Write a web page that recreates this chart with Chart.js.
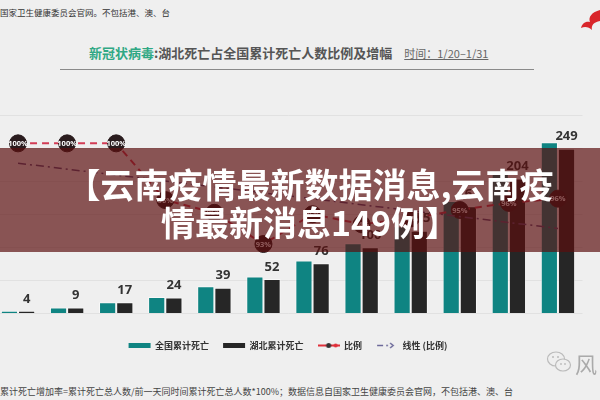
<!DOCTYPE html>
<html lang="zh">
<head>
<meta charset="utf-8">
<script src="https://cdn.jsdelivr.net/npm/chart.js@4.4.1/dist/chart.umd.min.js"></script>
<style>
  html, body { margin: 0; padding: 0; }
  body {
    width: 600px; height: 400px; overflow: hidden; position: relative;
    background: #efefef; font-family: "Noto Sans CJK SC", sans-serif;
  }
  .topnote { position: absolute; left: 0; top: 6px; font-size: 8.5px; color: #333; white-space: nowrap; }
  .title { position: absolute; left: 89px; top: 44px; font-size: 13px; line-height: 18px; font-weight: bold; color: #555; white-space: nowrap; }
  .title .virus { color: #2fa884; }
  .title .time { margin-left: 12px; font-size: 11px; font-weight: normal; color: #666; text-decoration: underline; }
  .rule { position: absolute; left: 60px; top: 69px; width: 474px; height: 1px; background: #8a8a8a; }
  #wrap { position: absolute; left: -16px; top: 100px; width: 608px; height: 260px; }
  .foot { position: absolute; left: 0; top: 385px; font-size: 9px; color: #444; white-space: nowrap; }
  .mark { position: absolute; left: 575px; top: 347px; font-size: 22px; color: #aaa; }
  .wx { position: absolute; left: 546px; top: 350px; }
  .logo { position: absolute; left: 580px; top: 8px; }
  .banner { position: absolute; left: 0; top: 148px; width: 600px; height: 104px; background: rgba(91, 15, 15, 0.69); }
  .banner-text {
    position: absolute; left: 20px; top: 165px; width: 580px; text-align: center;
    font-size: 34px; line-height: 38px; font-weight: bold; color: #fff;
  }
</style>
</head>
<body>
<div class="topnote">国家卫生健康委员会官网。不包括港、澳、台</div>
<div class="title"><span class="virus">新冠状病毒</span>:湖北死亡占全国累计死亡人数比例及增幅<span class="time">时间：1/20–1/31</span></div>
<div class="rule"></div>
<svg class="logo" width="20" height="30" viewBox="0 0 20 30">
  <path d="M20 2 C12 4 8 9 10 14 C5 13 2 16 1 20 C5 18 9 19 12 22 C11 17 14 14 20 13 Z" fill="#d9262b"/>
</svg>

<div id="wrap"><canvas id="chart"></canvas></div>

<div class="foot">累计死亡增加率=累计死亡总人数/前一天同时间累计死亡总人数*100%；数据信息自国家卫生健康委员会官网，不包括港、澳、台</div>
<svg class="wx" width="26" height="24" viewBox="0 0 26 24">
  <ellipse cx="10" cy="9" rx="8.5" ry="7" fill="none" stroke="#bbb" stroke-width="1.2"/>
  <ellipse cx="17" cy="15" rx="7.5" ry="6" fill="#efefef" stroke="#bbb" stroke-width="1.2"/>
  <circle cx="7" cy="7" r="1" fill="#bbb"/><circle cx="12" cy="7" r="1" fill="#bbb"/>
  <circle cx="15" cy="14" r="0.9" fill="#bbb"/><circle cx="19" cy="14" r="0.9" fill="#bbb"/>
</svg>
<div class="mark">风</div>

<div class="banner"></div>
<div class="banner-text">【云南疫情最新数据消息,云南疫<br>情最新消息149例】</div>

<script>
const days = ['20', '21', '22', '23', '24', '25', '26', '27', '28', '29', '30', '31'];
const nationalDeaths = [4, 9, 17, 25, 41, 56, 80, 106, 132, 170, 213, 259];
const hubeiDeaths = [4, 9, 17, 24, 39, 52, 76, 100, 125, 162, 204, 249];
// 湖北占全国比例
const ratio = [1, 1, 1, 0.96, 0.951, 0.929, 0.95, 0.943, 0.947, 0.953, 0.958, 0.961];
// 线性趋势线：只取两端
const trend = [0.986, null, null, null, null, null, null, null, null, null, null, 0.94];
const seriesNames = ['全国累计死亡', '湖北累计死亡', '比例', '线性 (比例)'];

const teal = '#0f8482';
const dark = '#262626';
const red = '#d23c55';
const purple = '#5e4d7c';

// legend icons for the two lines
function makeIcon(draw) {
  const c = document.createElement('canvas');
  c.width = 22; c.height = 9;
  draw(c.getContext('2d'));
  return c;
}
const ratioIcon = makeIcon(ctx => {
  ctx.strokeStyle = '#e0303a'; ctx.lineWidth = 2;
  ctx.beginPath(); ctx.moveTo(0, 4.5); ctx.lineTo(22, 4.5); ctx.stroke();
  ctx.fillStyle = '#333';
  ctx.beginPath(); ctx.arc(11, 4.5, 2.5, 0, Math.PI * 2); ctx.fill();
  ctx.fillStyle = '#e0303a';
  ctx.beginPath(); ctx.arc(18, 4.5, 2, 0, Math.PI * 2); ctx.fill();
});
const trendIcon = makeIcon(ctx => {
  ctx.strokeStyle = '#6d6a9a'; ctx.fillStyle = '#6d6a9a'; ctx.lineWidth = 1.5;
  ctx.beginPath(); ctx.moveTo(1, 4.5); ctx.lineTo(7, 4.5); ctx.stroke();
  ctx.beginPath(); ctx.arc(11, 4.5, 0.9, 0, Math.PI * 2); ctx.fill();
  ctx.beginPath(); ctx.moveTo(14, 2); ctx.lineTo(17, 4.5); ctx.lineTo(14, 7); ctx.stroke();
});
const legendStyles = ['rect', 'rect', ratioIcon, trendIcon];

const valueLabels = {
  id: 'valueLabels',
  afterDatasetsDraw(chart) {
    const ctx = chart.ctx;
    ctx.save();
    ctx.textAlign = 'center';
    ctx.textBaseline = 'middle';
    ctx.fillStyle = '#333';
    ctx.font = 'bold 13px "Open Sans"';
    chart.getDatasetMeta(1).data.forEach((bar, i) => {
      ctx.fillText(hubeiDeaths[i], bar.x, bar.y - 12);
    });
    ctx.fillStyle = '#fff';
    ctx.font = 'bold 7.5px "Open Sans"';
    chart.getDatasetMeta(2).data.forEach((pt, i) => {
      ctx.fillText(Math.round(ratio[i] * 100) + '%', pt.x, pt.y + 0.5);
    });
    ctx.restore();
  }
};

new Chart(document.getElementById('chart'), {
  data: {
    labels: days,
    datasets: [
      {
        type: 'bar', label: seriesNames[0], data: nationalDeaths, yAxisID: 'y', order: 2,
        backgroundColor: teal, borderColor: 'rgba(255,255,255,0.55)', borderWidth: 1,
        categoryPercentage: 0.7, barPercentage: 1
      },
      {
        type: 'bar', label: seriesNames[1], data: hubeiDeaths, yAxisID: 'y', order: 2,
        backgroundColor: dark, borderColor: 'rgba(255,255,255,0.55)', borderWidth: 1,
        categoryPercentage: 0.7, barPercentage: 1
      },
      {
        type: 'line', label: seriesNames[2], data: ratio, yAxisID: 'y1', order: 1,
        borderColor: red, borderWidth: 2, borderDash: [7, 5],
        pointRadius: 8.5, pointBackgroundColor: '#2a1c1e', pointBorderColor: '#2a1c1e', pointBorderWidth: 1
      },
      {
        type: 'line', label: seriesNames[3], data: trend, yAxisID: 'y1', order: 0,
        borderColor: purple, borderWidth: 1.5, borderDash: [8, 4, 2, 4],
        pointRadius: 0, spanGaps: true
      }
    ]
  },
  options: {
    responsive: true,
    maintainAspectRatio: false,
    animation: false,
    layout: { padding: { top: 15 } },
    plugins: {
      tooltip: { enabled: false },
      legend: {
        position: 'bottom',
        labels: {
          usePointStyle: true,
          pointStyleWidth: 22,
          boxHeight: 5,
          padding: 14,
          color: '#333',
          font: { family: '"Noto Sans CJK SC"', size: 9, weight: 'bold' },
          generateLabels(chart) {
            const items = Chart.defaults.plugins.legend.labels.generateLabels(chart);
            items.sort((a, b) => a.datasetIndex - b.datasetIndex);
            items.forEach(item => {
              item.pointStyle = legendStyles[item.datasetIndex];
              if (item.datasetIndex < 2) item.lineWidth = 0;
            });
            return items;
          }
        }
      }
    },
    scales: {
      x: {
        grid: { display: false },
        border: { display: false },
        ticks: { padding: 6, color: '#333', font: { family: '"Open Sans"', size: 12, weight: 'bold' } },
        afterFit(scale) { scale.height = 13.5; }
      },
      y: {
        min: 0, max: 300,
        ticks: { display: false, stepSize: 50 },
        grid: { color: '#e1e1e1', drawTicks: false },
        border: { display: false }
      },
      y1: { display: false, min: 0.88, max: 1.02 }
    }
  },
  plugins: [valueLabels]
});
</script>
</body>
</html>
